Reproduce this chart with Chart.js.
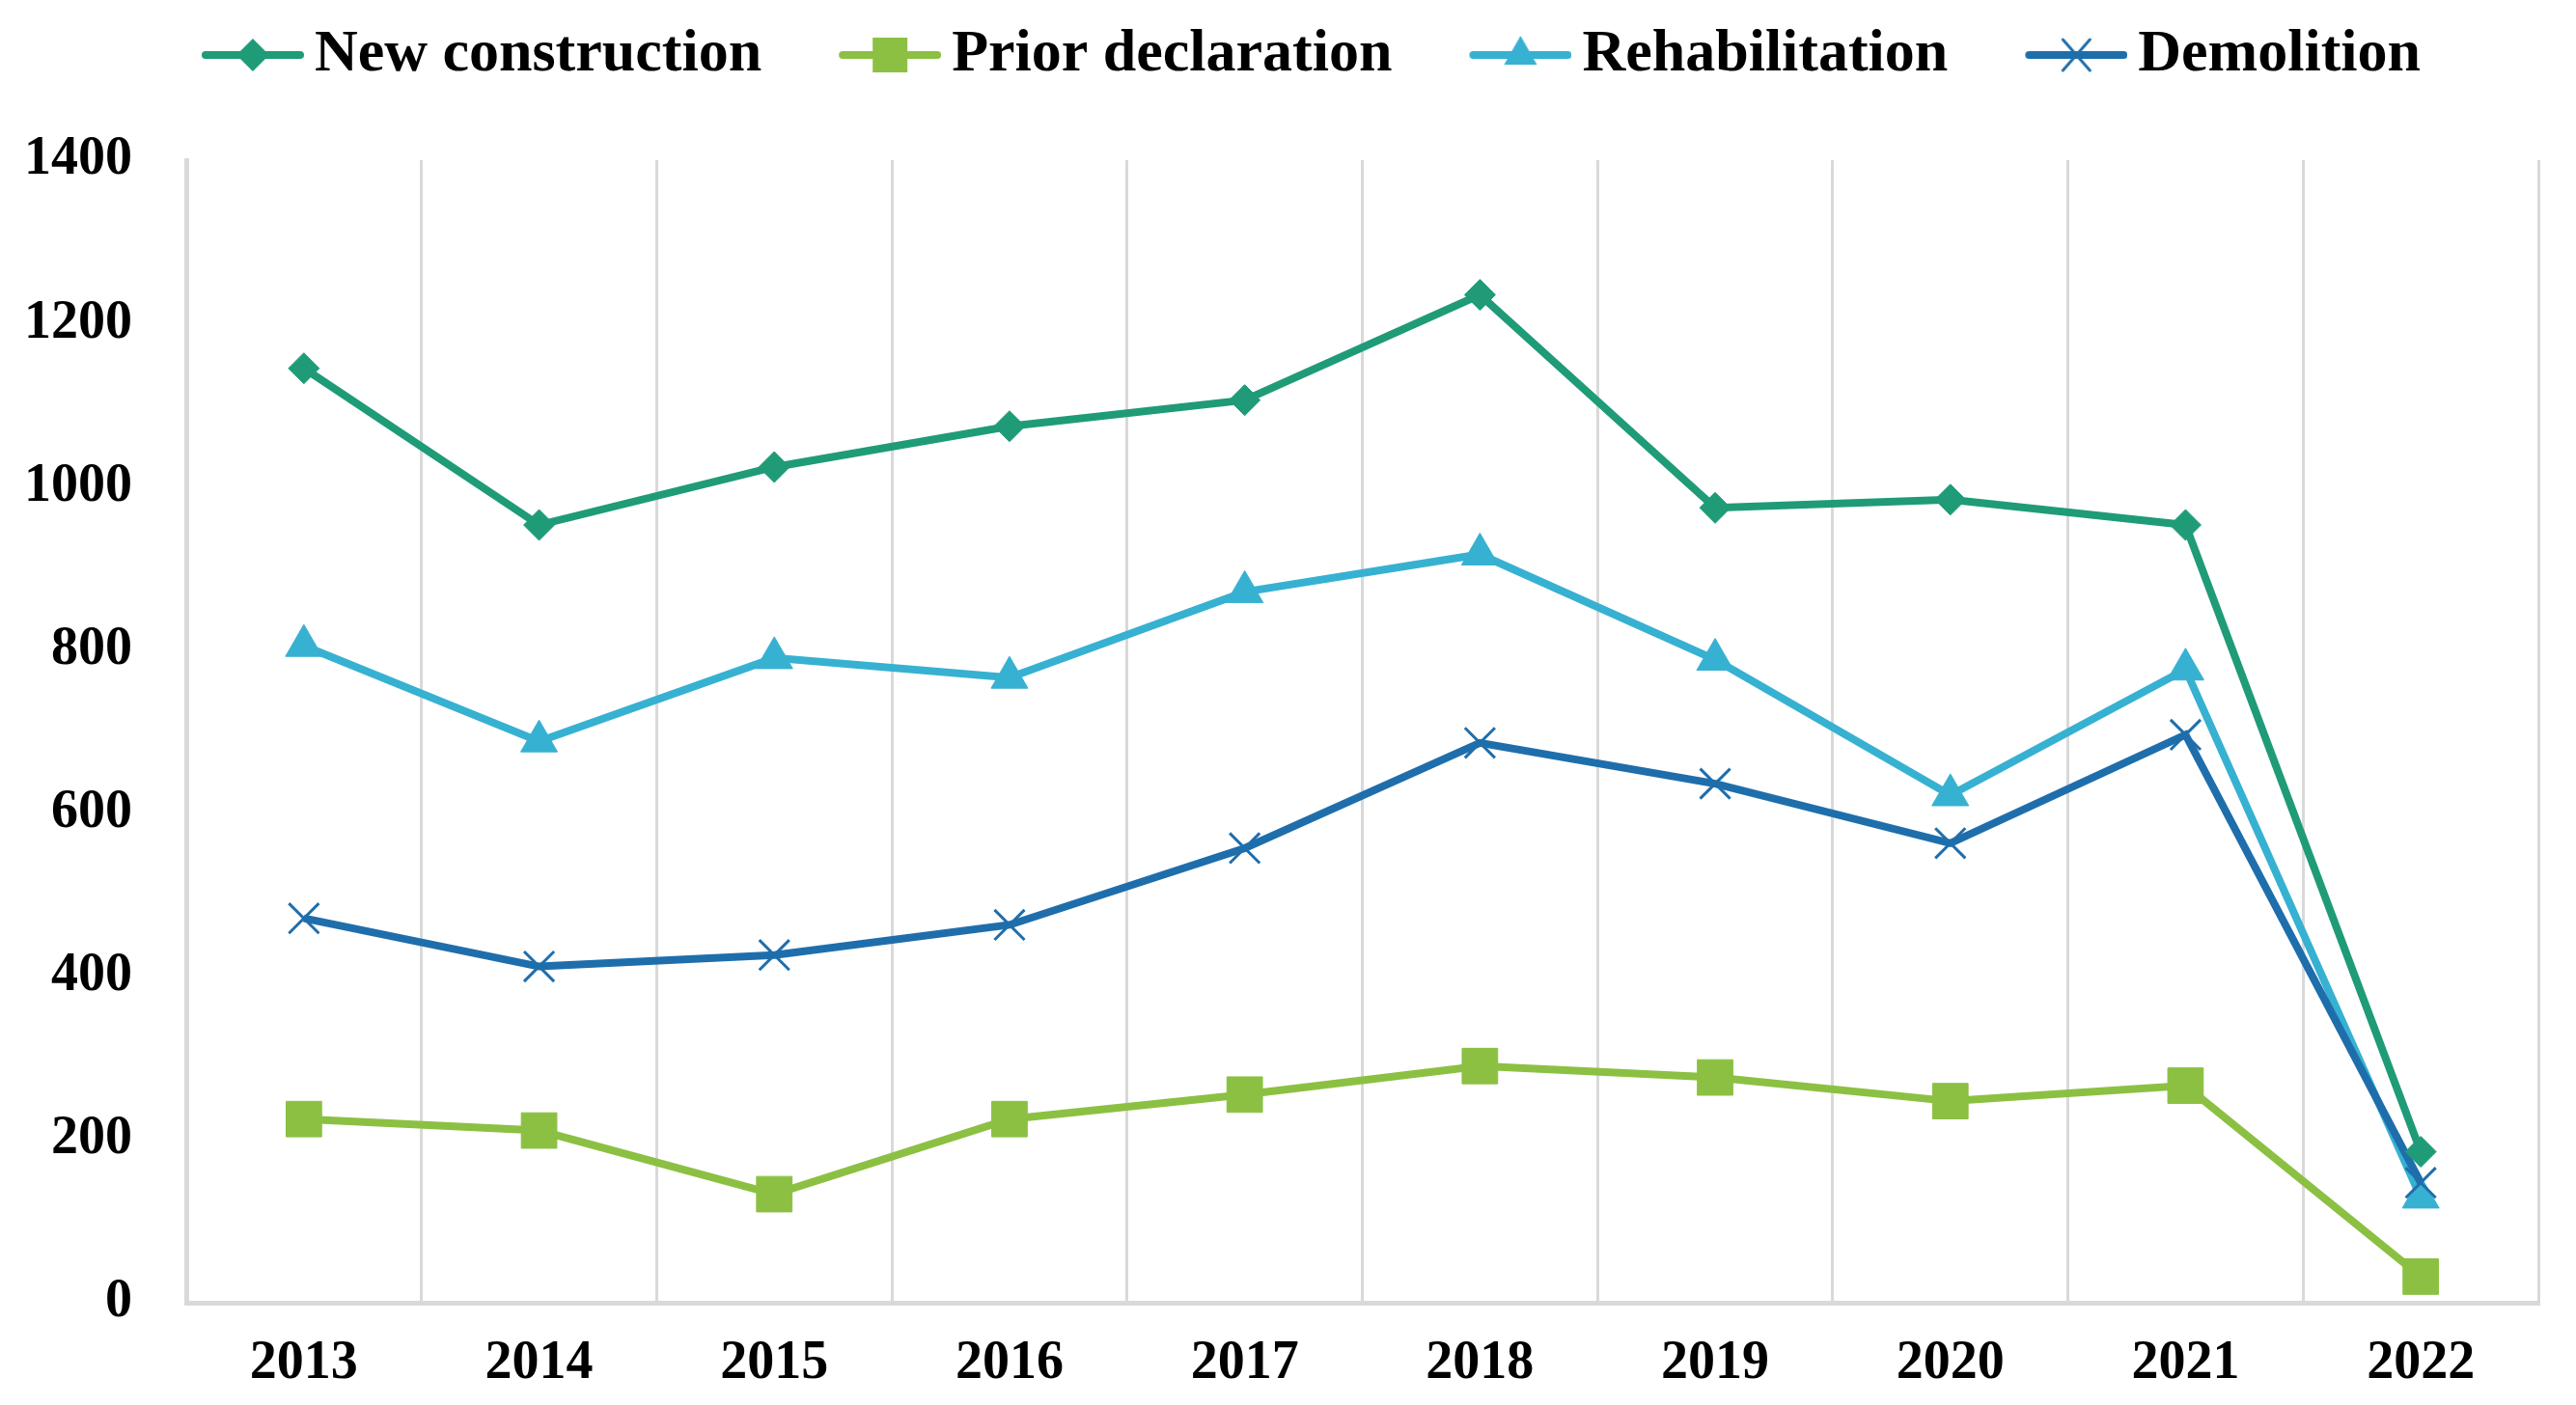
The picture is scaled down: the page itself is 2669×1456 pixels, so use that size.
<!DOCTYPE html>
<html>
<head>
<meta charset="utf-8">
<script src="https://cdn.jsdelivr.net/npm/chart.js@4/dist/chart.umd.min.js"></script>
<style>
  html, body { margin: 0; padding: 0; background: #fff; }
  #wrap { width: 2669px; height: 1456px; }
</style>
</head>
<body>
<div id="wrap"><canvas id="grafik" width="2669" height="1456"></canvas></div>
<script>
// values
const years = ["2013", "2014", "2015", "2016", "2017", "2018", "2019", "2020", "2021", "2022"];
const newConstruction = [1145, 953, 1024, 1074, 1106, 1235, 974, 984, 953, 185];
const priorDeclaration = [225, 211, 133, 225, 255, 290, 276, 247, 266, 32];
const rehabilitation = [805, 688, 790, 766, 871, 917, 788, 622, 776, 129];
const demolition = [471, 412, 426, 463, 557, 686, 636, 563, 696, 147];
const yTicks = [0, 200, 400, 600, 800, 1000, 1200, 1400];

const FONT = "'Liberation Serif', 'DejaVu Serif', serif";
const colors = {
  yeni: "#1f9b78",
  beyan: "#8cc043",
  rehab: "#37b1d1",
  yikim: "#1f6eac"
};

// legend icon: line with marker in the middle, drawn on a small canvas
function legendIcon(color, style) {
  const c = document.createElement("canvas");
  c.width = 188;
  c.height = 44;
  const g = c.getContext("2d");
  const x0 = 188 - 106, cx = 188 - 53, cy = 22;
  g.strokeStyle = color;
  g.fillStyle = color;
  g.lineWidth = 8;
  g.lineCap = "round";
  g.beginPath();
  g.moveTo(x0 + 4, cy);
  g.lineTo(188 - 4, cy);
  g.stroke();
  g.beginPath();
  if (style === "rectRot") {
    g.moveTo(cx, cy - 17); g.lineTo(cx + 17, cy); g.lineTo(cx, cy + 17); g.lineTo(cx - 17, cy);
    g.closePath(); g.fill();
  } else if (style === "rect") {
    g.rect(cx - 18, cy - 18, 36, 36); g.fill();
  } else if (style === "triangle") {
    g.moveTo(cx, cy - 20); g.lineTo(cx + 17, cy + 10); g.lineTo(cx - 17, cy + 10);
    g.closePath(); g.fill();
  } else {
    g.lineWidth = 3;
    g.moveTo(cx - 14, cy - 16); g.lineTo(cx + 14, cy + 16);
    g.moveTo(cx + 14, cy - 16); g.lineTo(cx - 14, cy + 16);
    g.stroke();
  }
  return c;
}

function seri(label, data, color, style, radius, order, pbw) {
  return {
    label: label,
    data: data,
    borderColor: color,
    backgroundColor: color,
    borderWidth: 8,
    tension: 0,
    pointStyle: style,
    pointRadius: radius,
    pointHoverRadius: radius,
    pointBackgroundColor: color,
    pointBorderColor: color,
    pointBorderWidth: pbw,
    order: order,
    legendIcon: legendIcon(color, style)
  };
}

// push the plot area down below the legend
const legendBosluk = {
  id: "legendBosluk",
  beforeInit(chart) {
    const fit = chart.legend.fit;
    chart.legend.fit = function () {
      fit.bind(chart.legend)();
      this.height += 68;
    };
  }
};

const ctx = document.getElementById("grafik").getContext("2d");
new Chart(ctx, {
  type: "line",
  data: {
    labels: years,
    datasets: [
      seri("New construction", newConstruction, colors.yeni, "rectRot", 16, 0, 1),
      seri("Prior declaration", priorDeclaration, colors.beyan, "rect", 26, 1, 1),
      seri("Rehabilitation", rehabilitation, colors.rehab, "triangle", 22, 3, 1),
      seri("Demolition", demolition, colors.yikim, "crossRot", 22, 2, 3)
    ]
  },
  plugins: [legendBosluk],
  options: {
    responsive: false,
    devicePixelRatio: 1,
    animation: false,
    layout: { padding: { left: 25, right: 39, top: 8, bottom: 2 } },
    plugins: {
      tooltip: { enabled: false },
      legend: {
        position: "top",
        labels: {
          usePointStyle: true,
          pointStyleWidth: 148,
          padding: 18,
          color: "#000",
          font: { family: FONT, size: 62, weight: "bold" },
          generateLabels(chart) {
            return chart.data.datasets.map((ds, i) => ({
              text: ds.label,
              pointStyle: ds.legendIcon,
              fillStyle: ds.borderColor,
              strokeStyle: ds.borderColor,
              lineWidth: 0,
              fontColor: "#000",
              hidden: false,
              datasetIndex: i
            }));
          }
        }
      }
    },
    scales: {
      x: {
        offset: true,
        afterFit(scale) { scale.height = 104; },
        grid: {
          display: true,
          offset: true,
          color: "#d9d9d9",
          lineWidth: 3,
          drawTicks: false
        },
        border: { display: true, color: "#d9d9d9", width: 5 },
        ticks: {
          color: "#000",
          padding: 30,
          font: { family: FONT, size: 56, weight: "bold" }
        }
      },
      y: {
        min: 0,
        max: 1400,
        afterFit(scale) { scale.width = 168; },
        afterBuildTicks(scale) {
          scale.ticks = yTicks.map(v => ({ value: v }));
        },
        grid: { display: false, drawTicks: false },
        border: { display: true, color: "#d9d9d9", width: 5 },
        ticks: {
          color: "#000",
          padding: 56,
          callback: v => String(v),
          font: { family: FONT, size: 56, weight: "bold" }
        }
      }
    }
  }
});
</script>
</body>
</html>
